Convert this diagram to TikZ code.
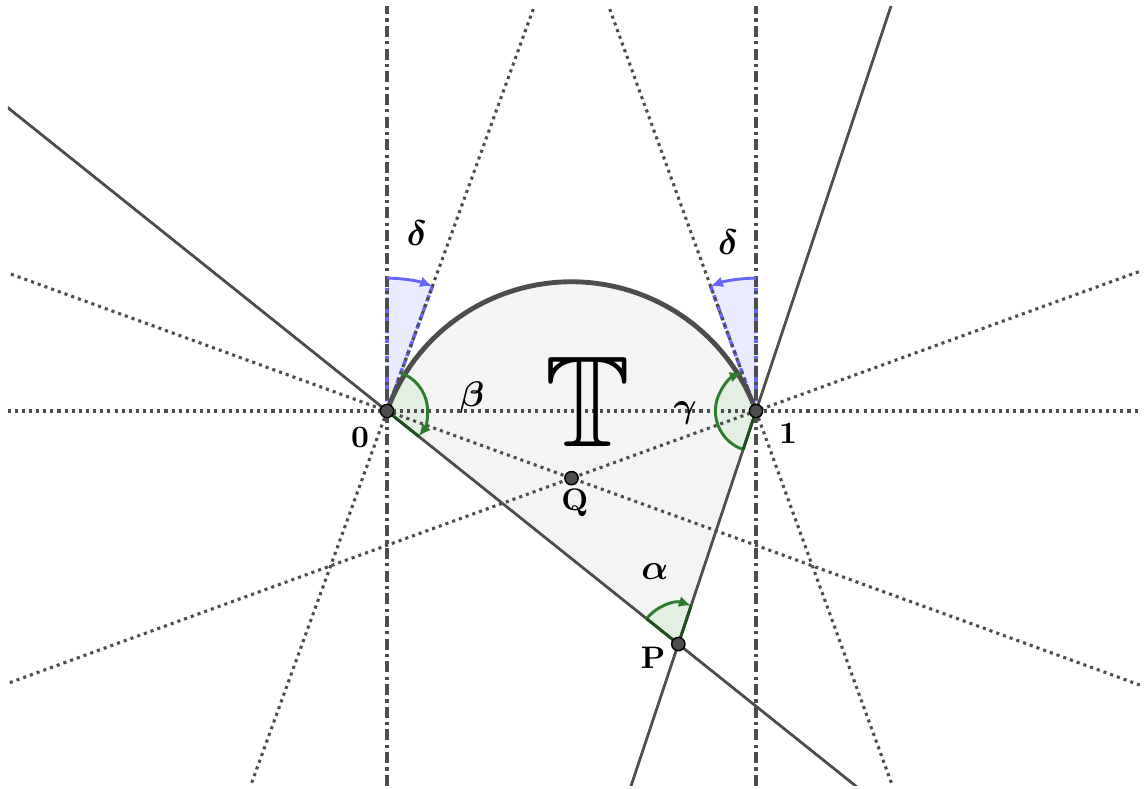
\documentclass[tikz,border=0pt]{standalone}
\usepackage{amsmath}
\usepackage{amssymb}
\usepackage{bm}
\usetikzlibrary{arrows.meta,calc}

\definecolor{ink}{HTML}{4D4D4D}
\definecolor{region}{HTML}{F4F4F4}
\definecolor{angG}{HTML}{2E7D2E}
\definecolor{angGdark}{HTML}{1F4F1F}
\definecolor{angGfill}{HTML}{E3EFE3}
\definecolor{angB}{HTML}{6666FF}
\definecolor{angBfill}{HTML}{EBEBFF}

\begin{document}
\begin{tikzpicture}[x=4cm,y=4cm,>={Latex[length=3.8pt,width=3.4pt]},
  solidline/.style={ink,line width=0.85pt},
  dotline/.style={ink,line width=0.95pt,dash pattern=on 0.95pt off 1.25pt},
  axisline/.style={ink,line width=1.15pt,dash pattern=on 3.4pt off 1.3pt on 1pt off 1.3pt},
  vertex/.style={circle,draw=black,fill=ink,inner sep=0pt,minimum size=4.1pt,line width=0.45pt},
  lbl/.style={font=\fontsize{9.6}{10}\selectfont\bfseries},
  greek/.style={font=\fontsize{11}{12}\selectfont}]
  \useasboundingbox (-1.04878,-1.02439) rectangle (2.05691,1.11382);
  \coordinate (zero) at (0,0);
  \coordinate (one) at (1,0);
  \coordinate (Q) at (0.5,-0.18199);
  \coordinate (P) at (0.78947,-0.63158);

  % region T
  \fill[region] (zero) arc[start angle=160,end angle=20,radius=0.53209] -- (P) -- cycle;

  % angle sectors
  \fill[angBfill] (zero) -- ++(90:0.36) arc[start angle=90,end angle=70,radius=0.36] -- cycle;
  \fill[angBfill] (one) -- ++(90:0.36) arc[start angle=90,end angle=110,radius=0.36] -- cycle;
  \fill[angGfill] (zero) -- ++(70:0.11) arc[start angle=70,end angle=-38.66,radius=0.11] -- cycle;
  \fill[angGfill] (one) -- ++(251.57:0.11) arc[start angle=251.57,end angle=110,radius=0.11] -- cycle;
  \fill[angGfill] (P) -- ++(141.34:0.11) arc[start angle=141.34,end angle=71.57,radius=0.11] -- cycle;
  \draw[angB,line width=1.1pt,dash pattern=on 2pt off 1pt] (zero) -- ++(90:0.36) (zero) -- ++(70:0.36);
  \draw[angB,line width=1.1pt,dash pattern=on 2pt off 1pt] (one) -- ++(90:0.36) (one) -- ++(110:0.36);

  % lines
  \begin{scope}
    \clip (-1.02710,-1.01355) rectangle (2.04065,1.09485);
    \draw[dotline] ($(zero)!-3!(one)$) -- ($(zero)!4!(one)$);
    \draw[dotline] ($(zero)!-4!(Q)$) -- ($(zero)!6!(Q)$);
    \draw[dotline] ($(one)!-4!(Q)$) -- ($(one)!6!(Q)$);
    \draw[dotline] ($(zero)+(70:-2)$) -- ($(zero)+(70:2)$);
    \draw[dotline] ($(one)+(110:-2)$) -- ($(one)+(110:2)$);
    \draw[axisline] ($(zero)+(0,-2)$) -- ($(zero)+(0,2)$);
    \draw[axisline] ($(one)+(0,-2)$) -- ($(one)+(0,2)$);
    \draw[solidline] ($(zero)!-2!(P)$) -- ($(zero)!3!(P)$);
    \draw[solidline] ($(one)!-3!(P)$) -- ($(one)!3!(P)$);
  \end{scope}
  \draw[ink,line width=1.5pt] (zero) arc[start angle=160,end angle=20,radius=0.53209];

  % angle arcs
  \draw[angB,line width=0.9pt,->] (zero) ++(90:0.36) arc[start angle=90,end angle=70,radius=0.36];
  \draw[angB,line width=0.9pt,->] (one) ++(90:0.36) arc[start angle=90,end angle=110,radius=0.36];
  \draw[angG,line width=0.9pt,->] (zero) ++(70:0.11) arc[start angle=70,end angle=-38.66,radius=0.11];
  \draw[angG,line width=0.9pt,->] (one) ++(251.57:0.11) arc[start angle=251.57,end angle=110,radius=0.11];
  \draw[angG,line width=0.9pt,->] (P) ++(141.34:0.11) arc[start angle=141.34,end angle=71.57,radius=0.11];
  \draw[angGdark,line width=0.9pt] (zero) -- ++(-38.66:0.11) (one) -- ++(251.57:0.11)
    (P) -- ++(141.34:0.11) (P) -- ++(71.57:0.11);

  % points
  \node[vertex] (ptzero) at (zero) {};
  \node[vertex] (ptone) at (one) {};
  \node[vertex] (ptQ) at (Q) {};
  \node[vertex] (ptP) at (P) {};

  % labels
  \node[lbl] (lblzero) at (-0.073,-0.073) {0};
  \node[lbl] (lblone) at (1.087,-0.060) {1};
  \node[lbl] (lblQ) at (0.509,-0.249) {Q};
  \node[lbl] (lblP) at (0.721,-0.669) {P};
  \node[greek] (lbldeltaL) at (0.081,0.482) {$\bm{\delta}$};
  \node[greek] (lbldeltaR) at (0.924,0.458) {$\bm{\delta}$};
  \node[greek] (lblbeta) at (0.230,0.035) {$\bm{\beta}$};
  \node[greek] (lblgamma) at (0.808,-0.005) {$\bm{\gamma}$};
  \node[greek] (lblalpha) at (0.726,-0.436) {$\bm{\alpha}$};
  \node[font=\fontsize{40}{40}\selectfont] (lblT) at (0.545,0.024) {$\mathbb{T}$};
\end{tikzpicture}
\end{document}
